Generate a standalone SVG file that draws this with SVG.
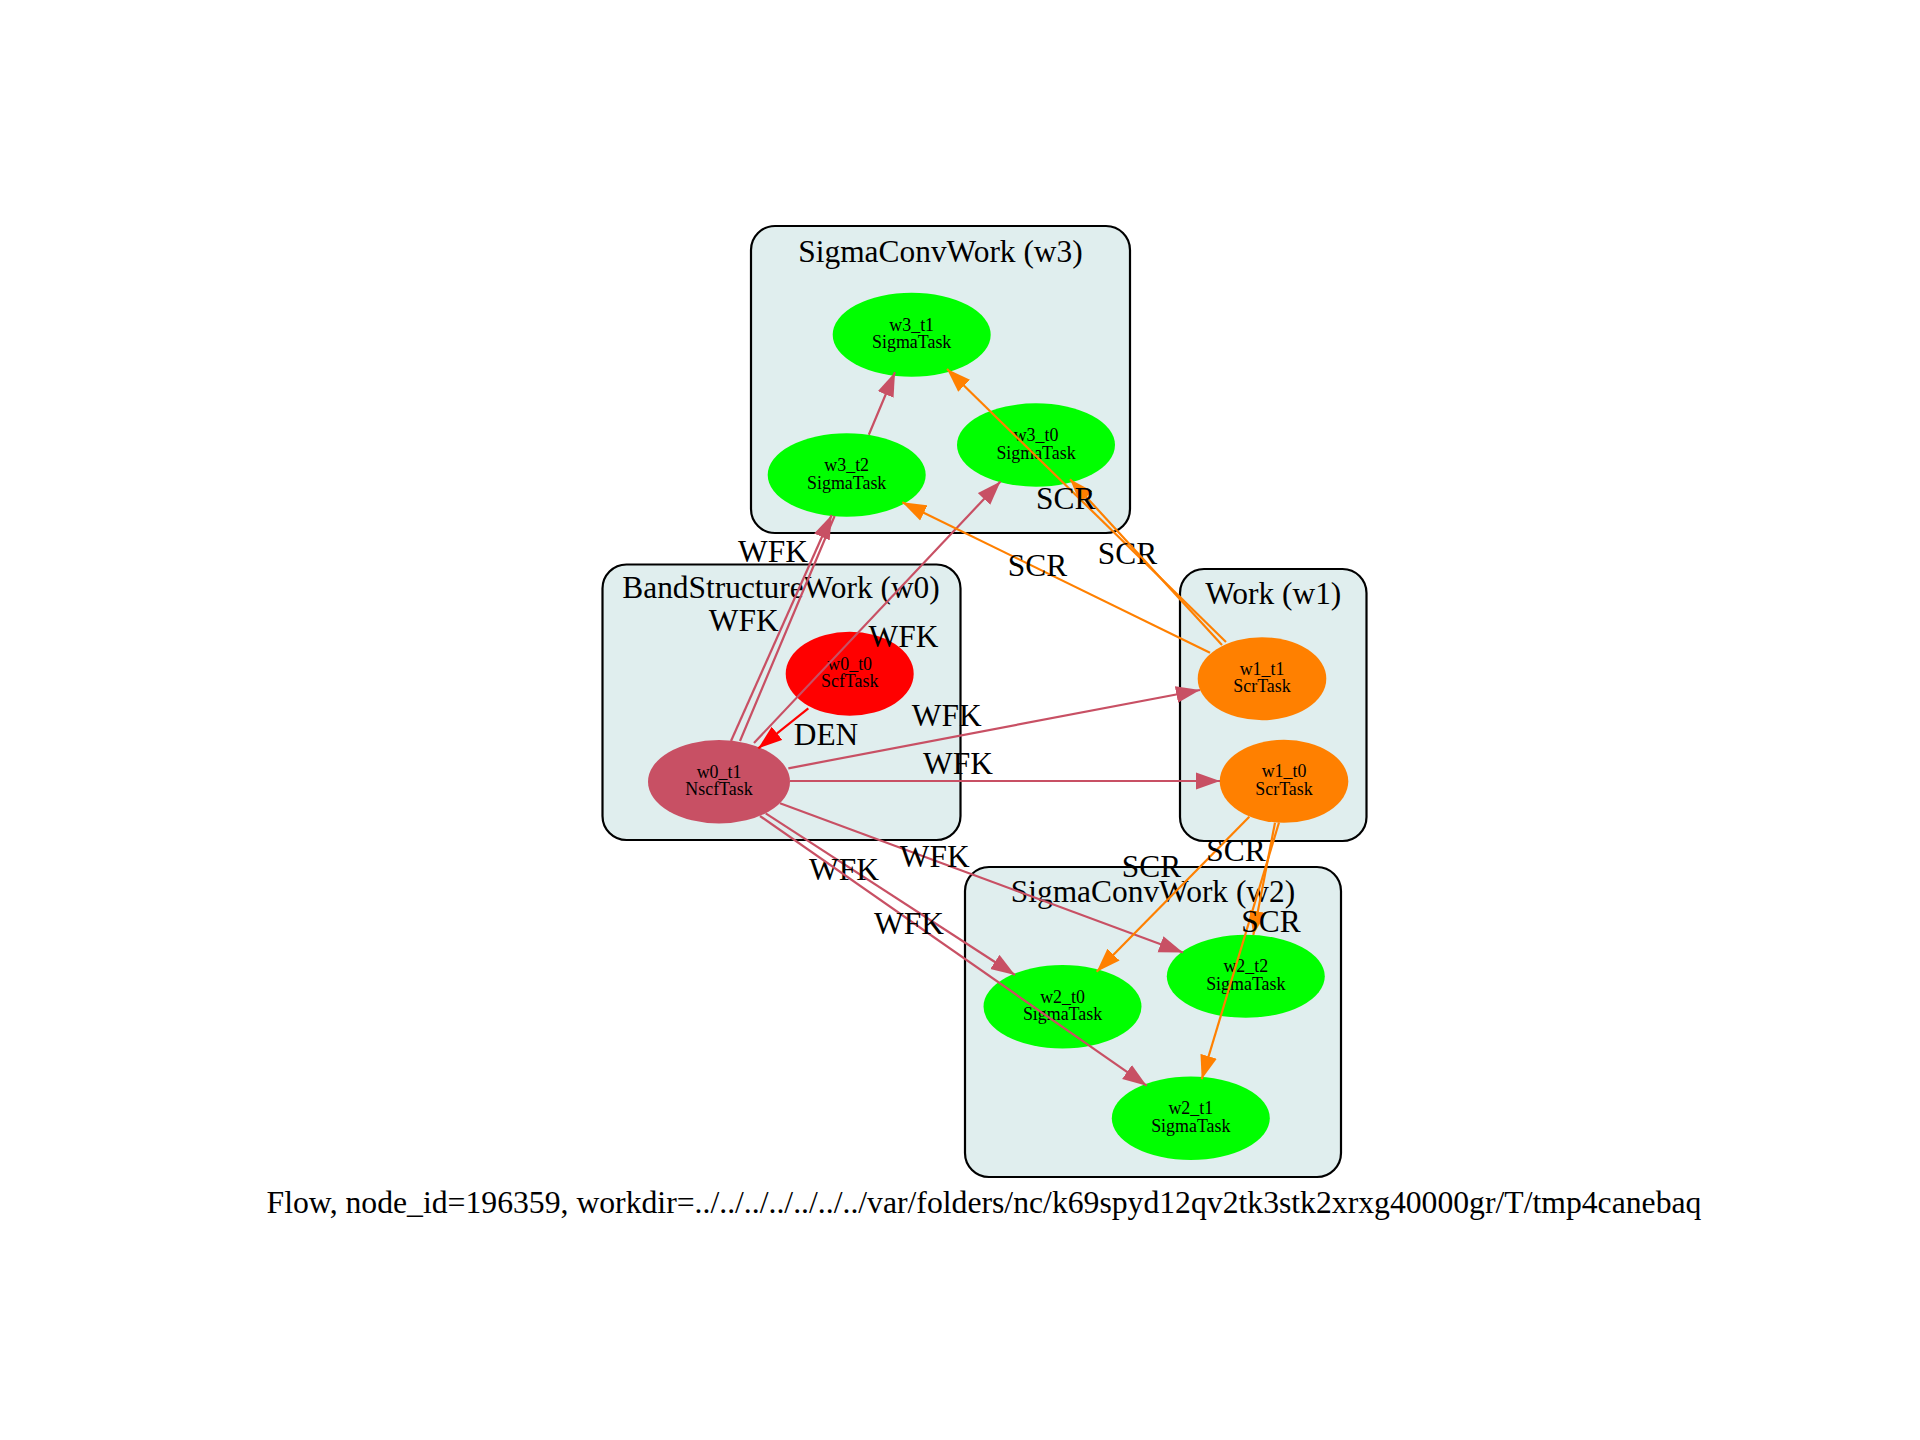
<svg xmlns="http://www.w3.org/2000/svg" width="1920" height="1440" viewBox="0 0 1920 1440">
<style>
text { font-family: "Liberation Serif", "Times New Roman", serif; fill: #000; }
.cl { fill: #e0eeee; stroke: #000; stroke-width: 2.2; }
.clab { font-size: 31.4px; text-anchor: middle; }
.nlab { font-size: 17.9px; text-anchor: middle; }
.elab { font-size: 31.4px; text-anchor: middle; }
.cap { font-size: 31.7px; text-anchor: middle; }
.sigma { fill: #00ff00; }
.scr { fill: #ff8000; }
.scf { fill: #ff0000; }
.nscf { fill: #c85064; }
.ep { fill: none; stroke: #c85064; stroke-width: 2.2; marker-end: url(#ap); }
.eo { fill: none; stroke: #ff8000; stroke-width: 2.2; marker-end: url(#ao); }
.er { fill: none; stroke: #ff0000; stroke-width: 2.2; marker-end: url(#ar); }
</style>
<defs>
<marker id="ap" markerUnits="userSpaceOnUse" markerWidth="26" markerHeight="18" refX="24" refY="9" orient="auto" viewBox="0 0 26 18"><path d="M0,0.5 L24,9 L0,17.5 z" fill="#c85064"/></marker>
<marker id="ao" markerUnits="userSpaceOnUse" markerWidth="26" markerHeight="18" refX="24" refY="9" orient="auto" viewBox="0 0 26 18"><path d="M0,0.5 L24,9 L0,17.5 z" fill="#ff8000"/></marker>
<marker id="ar" markerUnits="userSpaceOnUse" markerWidth="26" markerHeight="18" refX="24" refY="9" orient="auto" viewBox="0 0 26 18"><path d="M0,0.5 L24,9 L0,17.5 z" fill="#ff0000"/></marker>
</defs>
<rect x="0" y="0" width="1920" height="1440" fill="#ffffff"/>

<g id="clusters">
<g id="cluster_w3"><rect class="cl" x="751" y="226" width="379" height="307" rx="24" ry="24"/><text class="clab" x="940.5" y="262">SigmaConvWork (w3)</text></g>
<g id="cluster_w0"><rect class="cl" x="602.5" y="564.5" width="358" height="275.5" rx="24" ry="24"/><text class="clab" x="781" y="598">BandStructureWork (w0)</text></g>
<g id="cluster_w1"><rect class="cl" x="1180" y="569" width="186.5" height="272" rx="24" ry="24"/><text class="clab" x="1273.3" y="603.5">Work (w1)</text></g>
<g id="cluster_w2"><rect class="cl" x="965" y="867" width="376" height="310" rx="24" ry="24"/><text class="clab" x="1153" y="902">SigmaConvWork (w2)</text></g>
</g>

<g id="nodes">
<g id="w3_t1"><ellipse class="sigma" cx="911.7" cy="334.7" rx="79" ry="42"/><text class="nlab" x="911.7" y="330.7">w3_t1</text><text class="nlab" x="911.7" y="348.2">SigmaTask</text></g>
<g id="w3_t2"><ellipse class="sigma" cx="846.7" cy="475" rx="79" ry="41.7"/><text class="nlab" x="846.7" y="471">w3_t2</text><text class="nlab" x="846.7" y="488.5">SigmaTask</text></g>
<g id="w3_t0"><ellipse class="sigma" cx="1036" cy="445" rx="79" ry="41.7"/><text class="nlab" x="1036" y="441">w3_t0</text><text class="nlab" x="1036" y="458.5">SigmaTask</text></g>
<g id="w0_t0"><ellipse class="scf" cx="849.7" cy="673.7" rx="64" ry="42"/><text class="nlab" x="849.7" y="669.7">w0_t0</text><text class="nlab" x="849.7" y="687.2">ScfTask</text></g>
<g id="w0_t1"><ellipse class="nscf" cx="719" cy="781.7" rx="71" ry="41.7"/><text class="nlab" x="719" y="777.7">w0_t1</text><text class="nlab" x="719" y="795.2">NscfTask</text></g>
<g id="w1_t1"><ellipse class="scr" cx="1262" cy="678.7" rx="64.3" ry="41.5"/><text class="nlab" x="1262" y="674.7">w1_t1</text><text class="nlab" x="1262" y="692.2">ScrTask</text></g>
<g id="w1_t0"><ellipse class="scr" cx="1284" cy="781.3" rx="64.3" ry="41.5"/><text class="nlab" x="1284" y="777.3">w1_t0</text><text class="nlab" x="1284" y="794.8">ScrTask</text></g>
<g id="w2_t0"><ellipse class="sigma" cx="1062.5" cy="1006.7" rx="79" ry="41.7"/><text class="nlab" x="1062.5" y="1002.7">w2_t0</text><text class="nlab" x="1062.5" y="1020.2">SigmaTask</text></g>
<g id="w2_t2"><ellipse class="sigma" cx="1245.8" cy="976.3" rx="79" ry="41.5"/><text class="nlab" x="1245.8" y="972.3">w2_t2</text><text class="nlab" x="1245.8" y="989.8">SigmaTask</text></g>
<g id="w2_t1"><ellipse class="sigma" cx="1190.8" cy="1118.3" rx="79" ry="41.7"/><text class="nlab" x="1190.8" y="1114.3">w2_t1</text><text class="nlab" x="1190.8" y="1131.8">SigmaTask</text></g>
</g>

<g id="connectors">
<g id="e_w0t1_w3t2"><path class="ep" d="M731,741 L831.7,515"/><text class="elab" x="773" y="562">WFK</text></g>
<g id="e_w0t1_w3t1"><path class="ep" d="M740,741 L834.6,516 M868.8,434.7 L895,372.3"/><text class="elab" x="743.7" y="631">WFK</text></g>
<g id="e_w0t1_w3t0"><path class="ep" d="M754,743 L1000.5,481.5"/><text class="elab" x="903.5" y="646.7">WFK</text></g>
<g id="e_w0t1_w1t1"><path class="ep" d="M788.3,768.3 L1200,690"/><text class="elab" x="946.7" y="725.7">WFK</text></g>
<g id="e_w0t1_w1t0"><path class="ep" d="M790,781 L1220,781"/><text class="elab" x="958" y="774">WFK</text></g>
<g id="e_w0t1_w2t2"><path class="ep" d="M780,803.3 L1183,952.5"/><text class="elab" x="934.7" y="866.7">WFK</text></g>
<g id="e_w0t1_w2t0"><path class="ep" d="M765.7,813.3 L1015,975"/><text class="elab" x="844" y="880">WFK</text></g>
<g id="e_w0t1_w2t1"><path class="ep" d="M760,816 L1146.7,1085.7"/><text class="elab" x="909" y="934.3">WFK</text></g>
<g id="e_w0t0_w0t1"><path class="er" d="M808.3,708.3 L758.3,748.3"/><text class="elab" x="826" y="745">DEN</text></g>
<g id="e_w1t1_w3t2"><path class="eo" d="M1210,652.7 L902.3,502.3"/><text class="elab" x="1037.5" y="575.5">SCR</text></g>
<g id="e_w1t1_w3t1"><path class="eo" d="M1226,642 L947,369"/><text class="elab" x="1127.5" y="563.5">SCR</text></g>
<g id="e_w1t1_w3t0"><path class="eo" d="M1222,645 L1070,479.3"/><text class="elab" x="1065.7" y="509.3">SCR</text></g>
<g id="e_w1t0_w2t0"><path class="eo" d="M1249.3,816.7 L1096.7,971.7"/><text class="elab" x="1151.5" y="877">SCR</text></g>
<g id="e_w1t0_w2t2"><path class="eo" d="M1275,822.7 L1253.3,935"/><text class="elab" x="1236" y="861">SCR</text></g>
<g id="e_w1t0_w2t1"><path class="eo" d="M1279,822.5 L1201.7,1079.3"/><text class="elab" x="1271" y="931.7">SCR</text></g>
</g>

<text id="caption" class="cap" x="984" y="1213">Flow, node_id=196359, workdir=../../../../../../../var/folders/nc/k69spyd12qv2tk3stk2xrxg40000gr/T/tmp4canebaq</text>
</svg>
